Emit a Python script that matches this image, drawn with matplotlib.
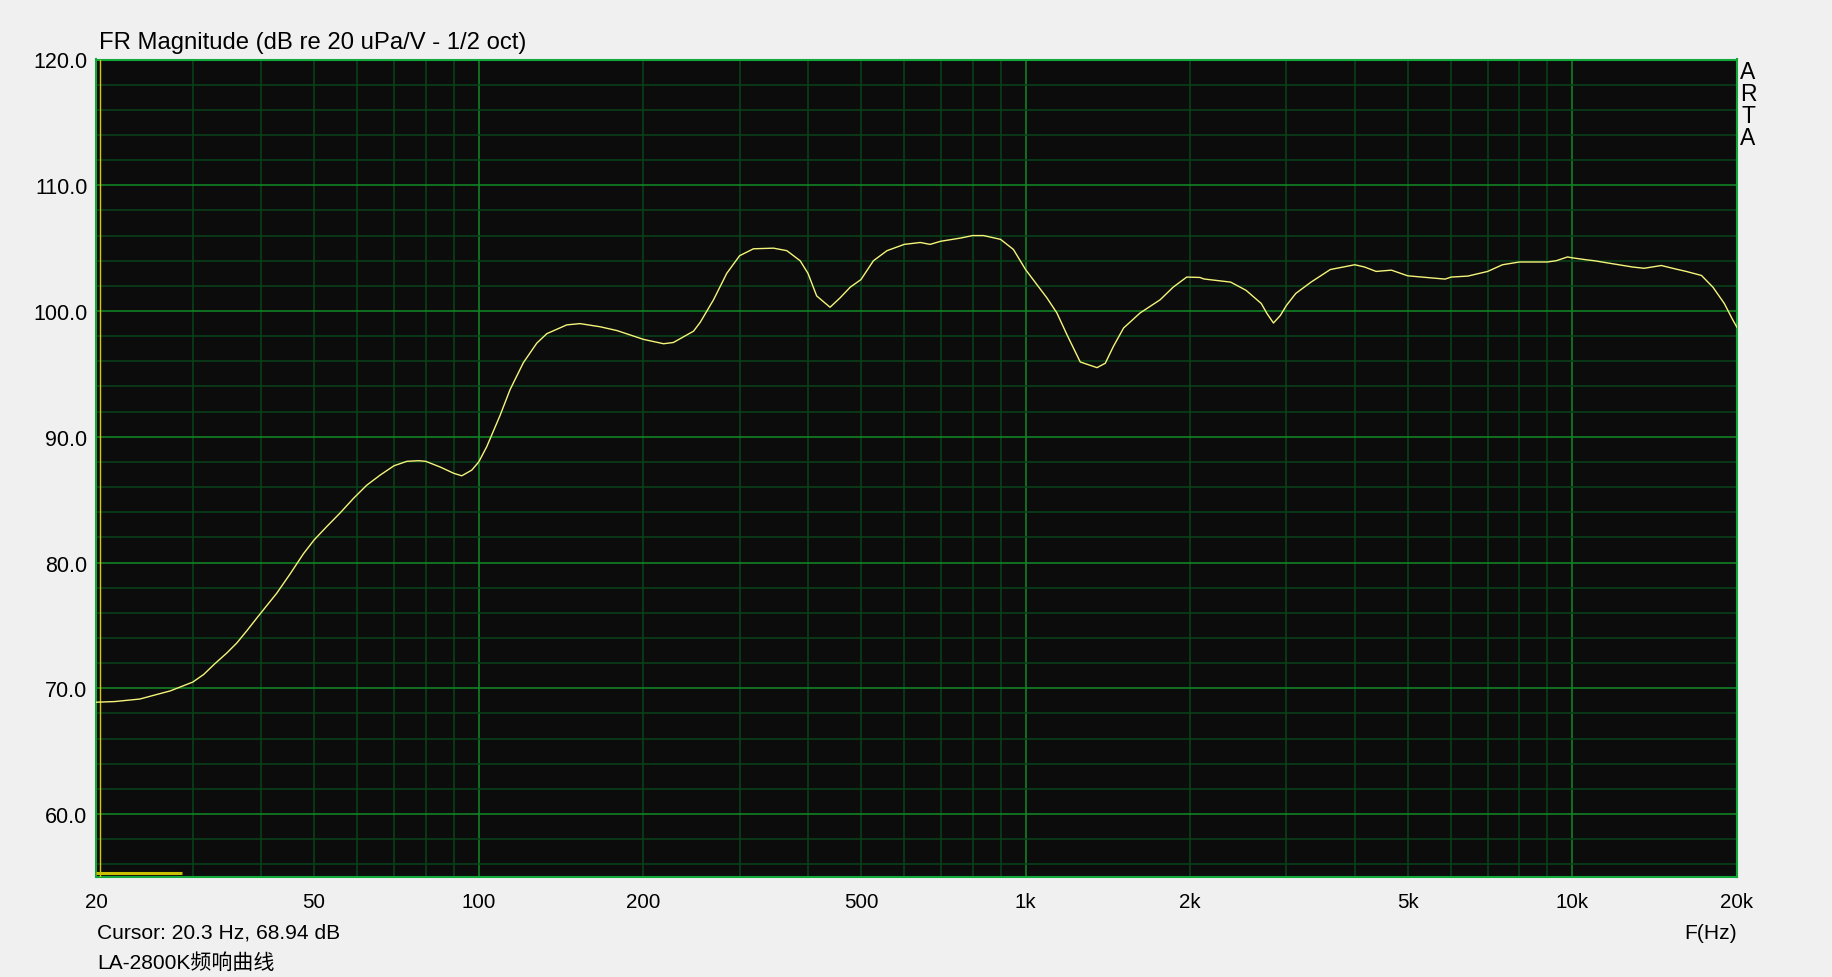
import matplotlib
matplotlib.use("Agg")
import matplotlib.pyplot as plt

# ---------------- data ----------------
freq_hz = [20, 21.6, 24.0, 27.3, 30, 31.4, 32.9, 34.6, 36.1, 37.7, 39.3, 41.0, 42.7, 45.2,
           47.8, 50, 52.7, 55.8, 59.0, 62.4, 66.0, 70, 73.9, 77.6, 80,
           85, 90, 93.1, 97.1, 100, 103.4, 109.4, 114.1, 120.7, 127.7, 133.2, 144.9, 153.2,
           166.7, 178.9, 200, 217.8, 227, 247.1, 254.1, 268.8, 284.2, 300, 318, 346, 366,
           387, 400, 415, 439, 458, 478, 500, 527, 558, 600, 642, 669, 700, 760, 800, 838,
           900, 950, 1000, 1049, 1094, 1141, 1191, 1259, 1351, 1399, 1448, 1511, 1620, 1763,
           1862, 1971, 2084, 2119, 2372, 2530, 2698, 2764, 2840, 2924, 3000, 3120, 3327,
           3608, 4000, 4169, 4376, 4668, 5000, 5572, 5850, 6000, 6442, 7000, 7450, 8000,
           9000, 9340, 9796, 10000, 10624, 10966, 11693, 12888, 13526, 14543, 15386, 16148,
           17220, 18070, 18960, 19590, 20000]
mag_db = [68.9, 68.95, 69.15, 69.8, 70.5, 71.1, 71.95, 72.8, 73.6, 74.6, 75.6, 76.6, 77.55,
          79.1, 80.7, 81.8, 82.85, 83.95, 85.1, 86.15, 86.95, 87.7, 88.05, 88.1, 88.05,
          87.6, 87.1, 86.9, 87.35, 88.0, 89.2, 91.7, 93.75, 95.9, 97.45,
          98.2, 98.9, 99.0, 98.75, 98.45, 97.75, 97.4, 97.5, 98.4, 99.1, 100.9, 103.0, 104.4,
          104.95, 105.0, 104.8, 104.0, 103.0, 101.2, 100.3, 101.05, 101.9, 102.5, 104.0,
          104.8, 105.3, 105.45, 105.3, 105.55, 105.8, 106.0, 106.0, 105.7, 104.9, 103.3,
          102.1, 101.05, 99.85, 98.1, 95.95, 95.5, 95.85, 97.2, 98.65, 99.85, 100.9, 101.9,
          102.7, 102.67, 102.55, 102.3, 101.65, 100.6, 99.8, 99.05, 99.65, 100.45, 101.4,
          102.3, 103.3, 103.68, 103.5, 103.15, 103.25, 102.8, 102.62, 102.54, 102.7, 102.78,
          103.15, 103.68, 103.9, 103.9, 104.0, 104.3, 104.23, 104.07, 104.0, 103.8, 103.5,
          103.4, 103.62, 103.36, 103.15, 102.83, 101.9, 100.6, 99.4, 98.7]

x_tick_vals = [20, 50, 100, 200, 500, 1000, 2000, 5000, 10000, 20000]
x_tick_labels = ["20", "50", "100", "200", "500", "1k", "2k", "5k", "10k", "20k"]
y_tick_vals = [60, 70, 80, 90, 100, 110, 120]
y_tick_labels = ["60.0", "70.0", "80.0", "90.0", "100.0", "110.0", "120.0"]

grid_x_minor = [30, 40, 50, 60, 70, 80, 90, 200, 300, 400, 500, 600, 700, 800, 900,
                2000, 3000, 4000, 5000, 6000, 7000, 8000, 9000]
grid_x_major = [100, 1000, 10000]
grid_y_minor = [56, 58, 62, 64, 66, 68, 72, 74, 76, 78, 82, 84, 86, 88, 92, 94, 96, 98,
                102, 104, 106, 108, 112, 114, 116, 118]
grid_y_major = [60, 70, 80, 90, 100, 110]

cursor_hz = 20.3
title_text = "FR Magnitude (dB re 20 uPa/V - 1/2 oct)"
cursor_text = "Cursor: 20.3 Hz, 68.94 dB"
name_text = "LA-2800K频响曲线"

# ---------------- style ----------------
FONT = ["Liberation Sans", "Noto Sans CJK SC", "DejaVu Sans"]
plt.rcParams["font.family"] = FONT

W, H = 1833, 978
fig = plt.figure(figsize=(W / 100, H / 100), dpi=100, facecolor="#f0f0f0")
L, R, T, B = 96.5, 1737, 60.5, 878
ax = fig.add_axes([L / W, 1 - B / H, (R - L) / W, (B - T) / H])
ax.set_facecolor("#0c0c0c")
ax.set_xscale("log")
ax.set_xlim(20, 20000)
ax.set_ylim(55, 120)

minor_c = "#07441a"
major_c = "#128a26"
for gx in grid_x_minor:
    ax.axvline(gx, color=minor_c, lw=1.1, zorder=1)
for gx in grid_x_major:
    ax.axvline(gx, color=major_c, lw=1.1, zorder=1)
for gy in grid_y_minor:
    ax.axhline(gy, color=minor_c, lw=1.1, zorder=1)
for gy in grid_y_major:
    ax.axhline(gy, color=major_c, lw=1.1, zorder=1)

for sp in ax.spines.values():
    sp.set_color("#12a83a")
    sp.set_linewidth(1.5)

# curve
ax.plot(freq_hz, mag_db, color="#f4f47a", lw=1.0, zorder=4)

# cursor
ax.axvline(cursor_hz, color="#d8c800", lw=1.0, zorder=3)
ax.plot([0.0, 0.052], [0.005, 0.005], transform=ax.transAxes, color="#c8c000",
        lw=2.2, zorder=3, solid_capstyle="butt")

ax.set_xticks(x_tick_vals)
ax.set_xticklabels(x_tick_labels)
ax.xaxis.set_minor_locator(matplotlib.ticker.NullLocator())
ax.set_yticks(y_tick_vals)
ax.set_yticklabels(y_tick_labels)
ax.tick_params(axis="both", length=0, colors="#000000")
ax.tick_params(axis="x", pad=10.7, labelsize=14.8)
ax.tick_params(axis="y", pad=6.6, labelsize=15.5)

# texts
fig.text(99.3 / W, 1 - 49.3 / H, title_text, fontsize=17.2, ha="left", va="baseline")
fig.text(97 / W, 1 - 939 / H, cursor_text, fontsize=15.1, ha="left", va="baseline")
fig.text(97 / W, 1 - 969 / H, name_text, fontsize=15.1, ha="left", va="baseline",
         family=["Liberation Sans", "Noto Sans CJK SC"])
fig.text(1737 / W, 1 - 939 / H, "F(Hz)", fontsize=15.1, ha="right", va="baseline")
for i, ch in enumerate("ARTA"):
    fig.text(1748 / W, 1 - (79.3 + 21.9 * i) / H, ch, fontsize=16.5, ha="center",
             va="baseline")

fig.savefig("out.png", dpi=100, facecolor=fig.get_facecolor())
